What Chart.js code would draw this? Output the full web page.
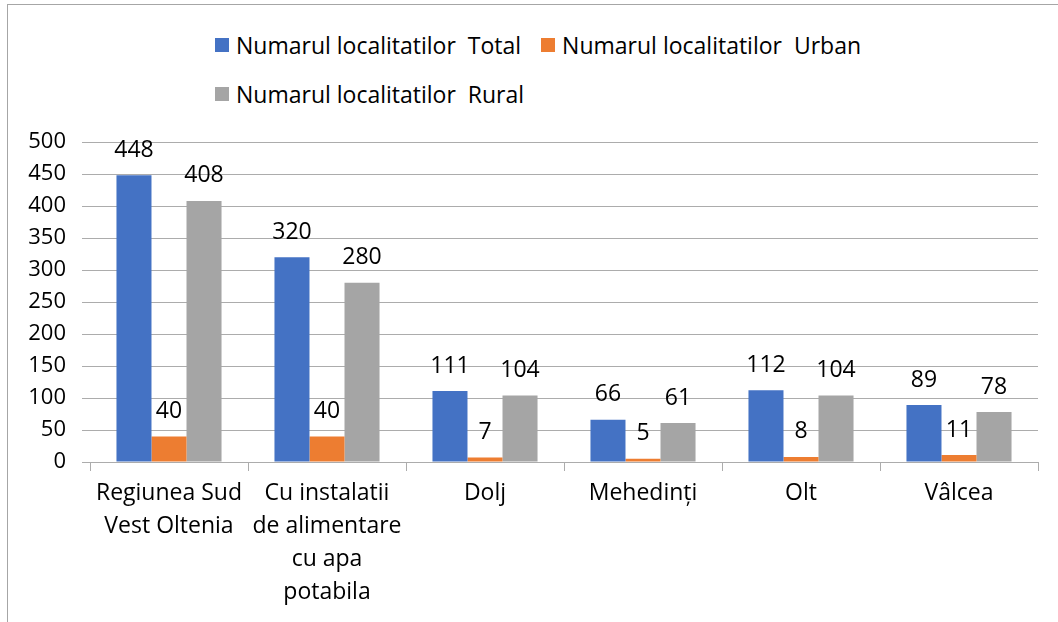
<!DOCTYPE html>
<html>
<head>
<meta charset="utf-8">
<script src="https://cdn.jsdelivr.net/npm/chart.js@4/dist/chart.umd.min.js"></script>
<style>
  html, body { margin: 0; padding: 0; background: #fff; }
  #wrap { position: relative; width: 1058px; height: 622px; overflow: hidden; }
  #frame { position: absolute; left: 7px; top: 4px; width: 1100px; height: 700px;
           border-left: 1px solid #a6a6a6; border-top: 1px solid #a6a6a6; }
  #legend { position: absolute; left: 215px; top: 32px; width: 700px;
            display: flex; flex-wrap: wrap; row-gap: 23px; column-gap: 20px;
            font-family: "Open Sans", sans-serif; font-size: 23px; color: #000; }
  .item { display: flex; align-items: center; height: 26px; white-space: pre; }
  .box { width: 14px; height: 14px; margin-right: 7px; }
  canvas { position: absolute; left: 0; top: 0; }
</style>
</head>
<body>
<div id="wrap">
  <div id="frame"></div>
  <div id="legend"></div>
  <canvas id="chart" width="1058" height="622"></canvas>
</div>
<script>
// data
const categories = [
  ["Regiunea Sud", "Vest Oltenia"],
  ["Cu instalatii", "de alimentare", "cu apa", "potabila"],
  "Dolj",
  "Mehedinți",
  "Olt",
  "Vâlcea"
];
const seriesNames = [
  "Numarul localitatilor  Total",
  "Numarul localitatilor  Urban",
  "Numarul localitatilor  Rural"
];
const totalValues = [448, 320, 111, 66, 112, 89];
const urbanValues = [40, 40, 7, 5, 8, 11];
const ruralValues = [408, 280, 104, 61, 104, 78];
const seriesColors = ["#4472C4", "#ED7D31", "#A5A5A5"];

const gridColor = "#acacac";
const font = "'Open Sans', sans-serif";

// value labels above each bar
const barLabels = {
  id: "barLabels",
  afterDatasetsDraw(chart) {
    const ctx = chart.ctx;
    ctx.save();
    ctx.font = "23px " + font;
    ctx.fillStyle = "#000";
    ctx.textAlign = "center";
    ctx.textBaseline = "middle";
    chart.data.datasets.forEach((ds, di) => {
      chart.getDatasetMeta(di).data.forEach((bar, i) => {
        ctx.fillText(ds.data[i], bar.x, bar.y - 25);
      });
    });
    ctx.restore();
  }
};

const chart = new Chart(document.getElementById("chart"), {
  type: "bar",
  data: {
    labels: categories,
    datasets: [
      { label: seriesNames[0], data: totalValues, backgroundColor: seriesColors[0] },
      { label: seriesNames[1], data: urbanValues, backgroundColor: seriesColors[1] },
      { label: seriesNames[2], data: ruralValues, backgroundColor: seriesColors[2] }
    ]
  },
  options: {
    responsive: false,
    animation: false,
    layout: { padding: { left: 0, right: 20, top: 142, bottom: 0 } },
    datasets: { bar: { categoryPercentage: 0.665, barPercentage: 1 } },
    plugins: {
      legend: { display: false },
      tooltip: { enabled: false }
    },
    scales: {
      x: {
        grid: { offset: true, drawOnChartArea: false, drawTicks: true, tickLength: 9, color: gridColor },
        border: { display: true, color: gridColor },
        ticks: { color: "#000", font: { family: font, size: 23, lineHeight: 1.43 }, padding: 6, maxRotation: 0, autoSkip: false },
        afterFit(s) { s.height = 160; }
      },
      y: {
        min: 0,
        max: 500,
        ticks: { stepSize: 50, color: "#000", font: { family: font, size: 22 }, padding: 16 },
        grid: { color: gridColor, tickLength: 8 },
        border: { display: false },
        afterFit(s) { s.width = 90; }
      }
    }
  },
  plugins: [barLabels]
});

// legend built from the chart's datasets
const legendEl = document.getElementById("legend");
chart.data.datasets.forEach(ds => {
  const item = document.createElement("div");
  item.className = "item";
  const box = document.createElement("span");
  box.className = "box";
  box.style.background = ds.backgroundColor;
  const txt = document.createElement("span");
  txt.textContent = ds.label;
  item.appendChild(box);
  item.appendChild(txt);
  legendEl.appendChild(item);
});
</script>
</body>
</html>
